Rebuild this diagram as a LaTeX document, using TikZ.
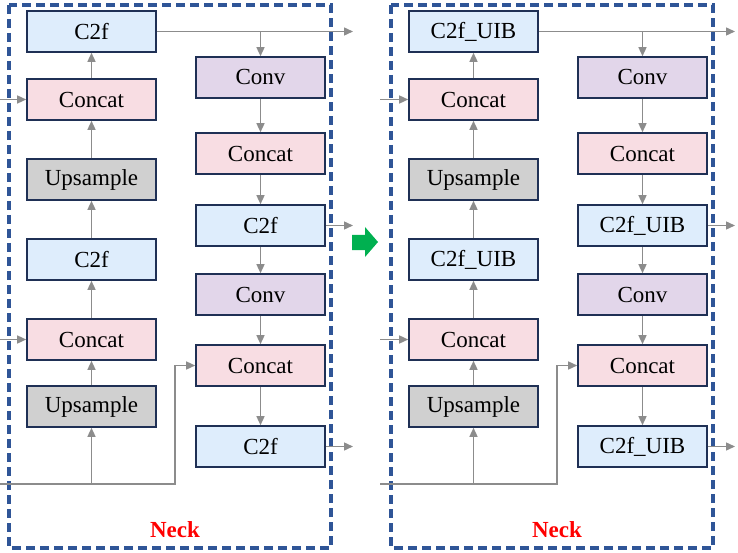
\documentclass[tikz,border=0pt]{standalone}
\usepackage{fontspec}
\setmainfont{Liberation Serif}
\usetikzlibrary{arrows.meta}
\definecolor{bxborder}{HTML}{1F3055}
\definecolor{cfblue}{HTML}{DEEDFC}
\definecolor{ccpink}{HTML}{F8DDE3}
\definecolor{cvpurple}{HTML}{E2D6EA}
\definecolor{upgrey}{HTML}{D0D0D0}
\definecolor{dashblue}{HTML}{2F5597}
\definecolor{arrgrey}{HTML}{8C8C8C}
\definecolor{greenarr}{HTML}{00B050}
\tikzset{
  blk/.style={draw=bxborder, line width=1.6pt, minimum width=129pt, minimum height=41pt, inner sep=0pt, font=\fontsize{23}{25}\selectfont},
  cf/.style={blk, fill=cfblue},
  cc/.style={blk, fill=ccpink},
  cv/.style={blk, fill=cvpurple},
  up/.style={blk, fill=upgrey},
  arr/.style={draw=arrgrey, line width=1.4pt, -{Triangle[length=9pt,width=8pt]}},
  frame/.style={draw=dashblue, line width=3.2pt, dash pattern=on 9pt off 5pt},
  necklbl/.style={text=red, font=\fontsize{23}{25}\selectfont\bfseries}
}
\begin{document}
\begin{tikzpicture}[x=1pt,y=-1pt]
\useasboundingbox (0,0) rectangle (738,553);
\foreach \dx/\nm/\lbl in {0/L/C2f, 382/R/C2f\_UIB}{
  \begin{scope}[xshift=\dx pt]
  \draw[frame] (9,5) rectangle (331,548);
  \node[necklbl] (neck\nm) at (175,530) {Neck};
  % left column
  \node[cf] (a1\nm) at (91.5,31.5) {\lbl};
  \node[cc] (a2\nm) at (91.5,99.5) {Concat};
  \node[up] (a3\nm) at (91.5,179.5) {Upsample};
  \node[cf] (a4\nm) at (91.5,259.5) {\lbl};
  \node[cc] (a5\nm) at (91.5,339.5) {Concat};
  \node[up] (a6\nm) at (91.5,406.5) {Upsample};
  % right column
  \node[cv] (b1\nm) at (260.5,77.5) {Conv};
  \node[cc] (b2\nm) at (260.5,153.5) {Concat};
  \node[cf] (b3\nm) at (260.5,225.5) {\lbl};
  \node[cv] (b4\nm) at (260.5,294.5) {Conv};
  \node[cc] (b5\nm) at (260.5,365.5) {Concat};
  \node[cf] (b6\nm) at (260.5,446.5) {\lbl};
  % coordinates
  \coordinate (in1\nm) at (-2,99.5);
  \coordinate (in2\nm) at (-2,339.5);
  \coordinate (in3\nm) at (-2,484);
  \coordinate (bend\nm) at (175,484);
  \coordinate (br\nm) at (a6\nm.south |- in3\nm);
  \coordinate (o1\nm) at (353,31.5);
  \coordinate (o2\nm) at (353,225.5);
  \coordinate (o3\nm) at (353,446.5);
  \coordinate (tb\nm) at (b1\nm.north |- o1\nm);
  % connectors
  \draw[arr] (in1\nm) -- (a2\nm.west);
  \draw[arr] (in2\nm) -- (a5\nm.west);
  \draw[arr] (in3\nm) -- (bend\nm) |- (b5\nm.west);
  \draw[arr] (br\nm) -- (a6\nm.south);
  \draw[arr] (a6\nm) -- (a5\nm);
  \draw[arr] (a5\nm) -- (a4\nm);
  \draw[arr] (a4\nm) -- (a3\nm);
  \draw[arr] (a3\nm) -- (a2\nm);
  \draw[arr] (a2\nm) -- (a1\nm);
  \draw[arr] (a1\nm.east) -- (o1\nm);
  \draw[arr] (tb\nm) -- (b1\nm.north);
  \draw[arr] (b1\nm) -- (b2\nm);
  \draw[arr] (b2\nm) -- (b3\nm);
  \draw[arr] (b3\nm) -- (b4\nm);
  \draw[arr] (b4\nm) -- (b5\nm);
  \draw[arr] (b5\nm) -- (b6\nm);
  \draw[arr] (b3\nm.east) -- (o2\nm);
  \draw[arr] (b6\nm.east) -- (o3\nm);
  \end{scope}
}
\fill[greenarr] (352,235) -- (365,235) -- (365,227) -- (378,242) -- (365,257) -- (365,250) -- (352,250) -- cycle;
\end{tikzpicture}
\end{document}
